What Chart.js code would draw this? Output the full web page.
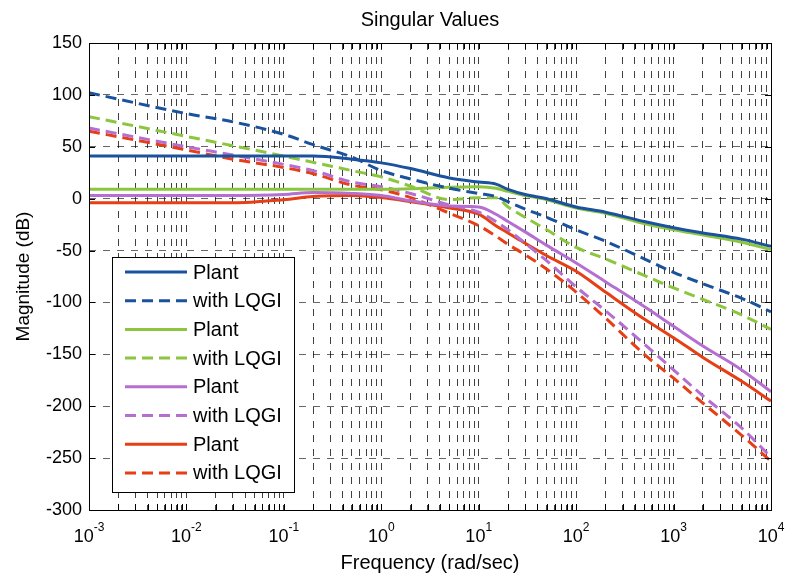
<!DOCTYPE html>
<html>
<head>
<meta charset="utf-8">
<title>Singular Values</title>
<script src="https://cdn.jsdelivr.net/npm/chart.js@4.4.1/dist/chart.umd.min.js"></script>
<style>
    html, body { margin: 0; padding: 0; background: #fff; }
    #wrap { width: 787px; height: 577px; position: relative; }
</style>
</head>
<body>
<div id="wrap"><canvas id="svChart"></canvas></div>
<script>
// === DATA ===
// frequency grid (rad/sec) shared by every curve
const freq = [0.001, 0.01, 0.03, 0.1, 0.2, 0.5, 1, 2, 5, 10, 15, 20, 30, 50, 100, 200, 500, 1000, 2000, 5000, 10000];

// singular values in dB
const plant1 = [41, 41, 41, 41, 41, 38, 34.5, 29, 20, 16, 14, 9, 4, 0, -8, -13, -22, -28, -33, -39, -46];
const lqgi1  = [102, 82, 74, 62, 52, 40, 27, 19, 10, 5, 2, -3, -10, -18, -30, -41, -58, -71, -82, -96, -109];
const plant2 = [9, 9, 9, 9, 9, 9, 9, 9.5, 11, 11.5, 10, 7, 3, -1, -9, -14, -24, -30, -35, -42, -49];
const lqgi2  = [79, 60, 51, 41, 35, 27, 21, 12, -1, 1, 1, -8, -18, -30, -47, -58, -74, -86, -97, -112, -126];
const plant3 = [3, 3, 3, 4, 6, 5, 3, -2, -7, -8, -15, -22, -32, -45, -62, -80, -104, -123, -142, -165, -186];
const lqgi3  = [68, 50, 42, 33, 27, 16, 11.5, 5, -6, -13, -22, -30, -43, -60, -85, -108, -140, -165, -190, -221, -249];
const plant4 = [-4, -4, -4, -1, 2, 3, 1, -3, -9, -15, -26, -33, -43, -55, -70, -90, -116, -134, -153, -176, -195];
const lqgi4  = [65, 47, 38, 30, 24, 13, 8.6, 1, -14, -26, -36, -44, -54, -68, -90, -115, -150, -173, -197, -228, -253];

const seriesLabels = ['Plant', 'with LQGI', 'Plant', 'with LQGI', 'Plant', 'with LQGI', 'Plant', 'with LQGI'];
const decades = [-3, -2, -1, 0, 1, 2, 3, 4];        // x tick labels: 10^d
const yMin = -300, yMax = 150, yStep = 50;

const BLUE = '#1a529e', GREEN = '#8cc63e', PURPLE = '#b46fd1', RED = '#e63f16';
const DASH = [11, 6];
const FONT = '"Liberation Sans", Arial, Helvetica, sans-serif';

const pts = vals => vals.map((v, i) => ({ x: freq[i], y: v }));

function line(label, vals, color, dashed) {
    return {
        label: label,
        data: pts(vals),
        borderColor: color,
        backgroundColor: color,
        borderWidth: 3,
        borderDash: dashed ? DASH : [],
        pointRadius: 0,
        cubicInterpolationMode: 'monotone',
        fill: false
    };
}

Chart.defaults.font.family = FONT;
Chart.defaults.color = '#000';

// === PLUGIN: axes box, inner ticks, title, x labels with exponents, legend ===
const boxPlugin = {
    id: 'boxPlugin',
    afterDraw(chart) {
        const { ctx, chartArea: a } = chart;
        const xs = chart.scales.x, ys = chart.scales.y;
        ctx.save();
        ctx.strokeStyle = '#000';
        ctx.lineWidth = 1;
        ctx.setLineDash([]);
        ctx.beginPath();
        xs.ticks.forEach(t => {
            const px = Math.round(xs.getPixelForValue(t.value)) + 0.5;
            ctx.moveTo(px, a.bottom); ctx.lineTo(px, a.bottom - 6);
            ctx.moveTo(px, a.top); ctx.lineTo(px, a.top + 6);
        });
        ys.ticks.forEach(t => {
            const py = Math.round(ys.getPixelForValue(t.value)) + 0.5;
            ctx.moveTo(a.left, py); ctx.lineTo(a.left + 6, py);
            ctx.moveTo(a.right, py); ctx.lineTo(a.right - 6, py);
        });
        ctx.stroke();
        ctx.strokeRect(Math.round(a.left) + 0.5, Math.round(a.top) + 0.5,
                       Math.round(a.right - a.left), Math.round(a.bottom - a.top));

        // title, centred over the axes
        ctx.fillStyle = '#000';
        ctx.font = '20px ' + FONT;
        ctx.textAlign = 'center';
        ctx.textBaseline = 'middle';
        ctx.fillText('Singular Values', (a.left + a.right) / 2, 20);

        // x tick labels 10^d
        ctx.textAlign = 'left';
        decades.forEach(d => {
            const px = xs.getPixelForValue(Math.pow(10, d));
            ctx.font = '18px ' + FONT;
            const wb = ctx.measureText('10').width;
            ctx.font = '12px ' + FONT;
            const we = ctx.measureText(String(d)).width;
            const x0 = px - (wb + we) / 2;
            ctx.font = '18px ' + FONT;
            ctx.fillText('10', x0, a.bottom + 27);
            ctx.font = '12px ' + FONT;
            ctx.fillText(String(d), x0 + wb, a.bottom + 18);
        });

        // legend, lower left inside the axes
        const bx = a.left + 23, bw = 182, bh = 235, by = a.bottom - 18 - bh;
        ctx.fillStyle = '#fff';
        ctx.fillRect(bx, by, bw, bh);
        ctx.strokeStyle = '#000';
        ctx.lineWidth = 1;
        ctx.strokeRect(Math.round(bx) + 0.5, Math.round(by) + 0.5, bw, bh);
        ctx.font = '20px ' + FONT;
        chart.data.datasets.forEach((ds, i) => {
            const cy = by + 15 + i * 28.7;
            ctx.strokeStyle = ds.borderColor;
            ctx.lineWidth = ds.borderWidth;
            ctx.setLineDash(ds.borderDash);
            ctx.beginPath();
            ctx.moveTo(bx + 13, cy);
            ctx.lineTo(bx + 75, cy);
            ctx.stroke();
            ctx.fillStyle = '#000';
            ctx.fillText(ds.label, bx + 81, cy + 1);
        });
        ctx.restore();
    }
};

// === CHART ===
const ctx = document.getElementById('svChart').getContext('2d');
new Chart(ctx, {
    type: 'line',
    data: {
        datasets: [
            line(seriesLabels[0], plant1, BLUE, false),
            line(seriesLabels[1], lqgi1, BLUE, true),
            line(seriesLabels[2], plant2, GREEN, false),
            line(seriesLabels[3], lqgi2, GREEN, true),
            line(seriesLabels[4], plant3, PURPLE, false),
            line(seriesLabels[5], lqgi3, PURPLE, true),
            line(seriesLabels[6], plant4, RED, false),
            line(seriesLabels[7], lqgi4, RED, true)
        ]
    },
    options: {
        responsive: true,
        maintainAspectRatio: false,
        animation: false,
        layout: { padding: { top: 43, right: 16, bottom: 0, left: 0 } },
        plugins: {
            legend: { display: false },
            title: { display: false },
            tooltip: { enabled: false }
        },
        scales: {
            x: {
                type: 'logarithmic',
                min: 1e-3,
                max: 1e4,
                afterBuildTicks: scale => {
                    const ticks = [];
                    decades.forEach((d, i) => {
                        for (let m = 1; m <= 9; m++) {
                            if (i === decades.length - 1 && m > 1) break;
                            ticks.push({ value: m * Math.pow(10, d) });
                        }
                    });
                    scale.ticks = ticks;
                },
                afterFit: scale => { scale.height = 67; },
                grid: { color: 'rgba(0,0,0,0.75)', lineWidth: 1, drawTicks: false },
                border: { display: false, dash: [7, 7] },
                ticks: { display: false, autoSkip: false },
                title: {
                    display: true,
                    text: 'Frequency (rad/sec)',
                    font: { size: 20 },
                    padding: { top: 0, bottom: 2 }
                }
            },
            y: {
                min: yMin,
                max: yMax,
                afterFit: scale => { scale.width = 89; },
                grid: { color: 'rgba(0,0,0,0.6)', lineWidth: 1, drawTicks: false },
                border: { display: false, dash: [7, 7] },
                ticks: {
                    stepSize: yStep,
                    padding: 7,
                    font: { size: 18 }
                },
                title: {
                    display: true,
                    text: 'Magnitude (dB)',
                    font: { size: 19 },
                    padding: { top: 12, bottom: 0 }
                }
            }
        }
    },
    plugins: [boxPlugin]
});
</script>
</body>
</html>
